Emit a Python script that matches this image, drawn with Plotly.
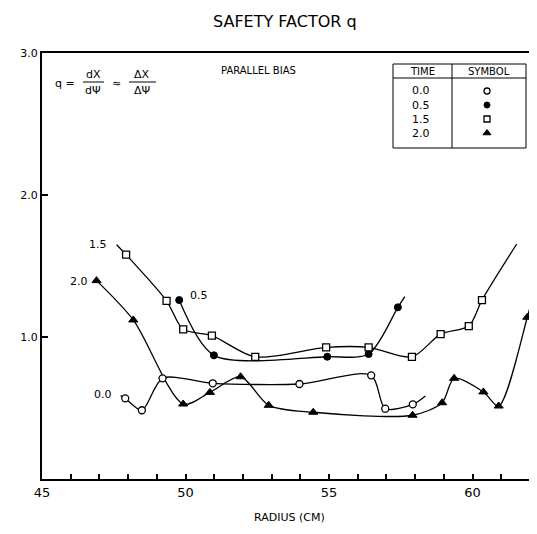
import plotly.graph_objects as go

# ---------------- data ----------------
# TIME 0.0 (open circles)
r_00 = [47.9, 48.48, 49.2, 50.95, 53.97, 56.47, 56.96, 57.92]
q_00 = [0.568, 0.484, 0.709, 0.674, 0.669, 0.73, 0.495, 0.526]
ends_r_00 = [47.74, 58.36]
ends_q_00 = [0.587, 0.585]

# TIME 0.5 (filled ellipses)
r_05 = [49.78, 50.99, 54.94, 56.38, 57.4]
q_05 = [1.26, 0.871, 0.861, 0.88, 1.209]
ends_r_05 = [None, 57.64]
ends_q_05 = [None, 1.284]

# TIME 1.5 (open squares)
r_15 = [47.93, 49.34, 49.92, 50.92, 52.43, 54.9, 56.38, 57.89, 58.89, 59.87, 60.33]
q_15 = [1.58, 1.255, 1.054, 1.01, 0.86, 0.927, 0.927, 0.86, 1.02, 1.077, 1.26]
ends_r_15 = [47.6, 61.54]
ends_q_15 = [1.65, 1.655]

# TIME 2.0 (filled triangles)
r_20 = [46.9, 48.18, 49.92, 50.85, 51.92, 52.9, 54.45, 57.91, 58.94, 59.36,
        60.38, 60.91, 61.91, 62.26]
q_20 = [1.397, 1.12, 0.528, 0.61, 0.72, 0.519, 0.47, 0.449, 0.537, 0.709,
        0.613, 0.514, 1.139, 1.425]
ends_r_20 = [None, None]
ends_q_20 = [None, None]

times = ["0.0", "0.5", "1.5", "2.0"]
x_ticks = list(range(45, 63))
x_tick_text = [str(v) if v % 5 == 0 else "" for v in x_ticks]
y_ticks = [1.0, 2.0, 3.0]
y_tick_text = ["1.0", "2.0", "3.0"]

# ---------------- layout helpers ----------------
# the page body adds an 8px margin; lay out in screen pixels and shift
OFF = 8
SW, SH = 537, 534              # screen size
W, H = SW - 2 * OFF, SH - 2 * OFF  # figure size (no scrollbars)
PL, PR, PT, PB = 42, SW - OFF, 53, 479   # plot area in screen pixels
L, T = PL - OFF, PT - OFF
R = W - (PR - OFF)
B = H - (PB - OFF)
PW, PH = PR - PL, PB - PT
UNIT = 28.7  # pixels per cm in the reference


def px(x):
    return (x - PL) / PW


def py(y):
    return (PB - y) / PH


FONT = "DejaVu Sans"
marker_styles = {
    "0.0": dict(symbol="circle", size=7, color="white", line=dict(color="black", width=1.3)),
    "0.5": dict(symbol="circle", size=7, color="black", line=dict(color="black", width=1)),
    "1.5": dict(symbol="square", size=7, color="white", line=dict(color="black", width=1.3)),
    "2.0": dict(symbol="triangle-up", size=8, color="black", line=dict(color="black", width=1)),
}

series = {
    "0.0": (r_00, q_00, ends_r_00, ends_q_00),
    "0.5": (r_05, q_05, ends_r_05, ends_q_05),
    "1.5": (r_15, q_15, ends_r_15, ends_q_15),
    "2.0": (r_20, q_20, ends_r_20, ends_q_20),
}

fig = go.Figure()

for t in times:
    r, q, er, eq = series[t]
    lx = ([er[0]] if er[0] is not None else []) + r + ([er[1]] if er[1] is not None else [])
    ly = ([eq[0]] if eq[0] is not None else []) + q + ([eq[1]] if eq[1] is not None else [])
    fig.add_trace(go.Scatter(x=lx, y=ly, mode="lines",
                             line=dict(color="black", width=1.3, shape="spline", smoothing=0.8),
                             showlegend=False, hoverinfo="skip"))
for t in times:
    r, q, er, eq = series[t]
    fig.add_trace(go.Scatter(x=r, y=q, mode="markers", marker=marker_styles[t],
                             showlegend=False, name=t))

# legend table markers on overlay axes (pixel-based paper coords)
leg_rows_y = [91, 105, 119, 133]
for t, yy in zip(times, leg_rows_y):
    ms = dict(marker_styles[t])
    ms["size"] = ms["size"] - 1
    fig.add_trace(go.Scatter(x=[px(487)], y=[py(yy)], mode="markers", marker=ms,
                             xaxis="x2", yaxis="y2", showlegend=False, hoverinfo="skip"))

fig.update_layout(
    width=W, height=H,
    margin=dict(l=L, r=R, t=T, b=B, pad=0),
    paper_bgcolor="white", plot_bgcolor="white",
    font=dict(family=FONT, color="black", size=12),
    showlegend=False,
    xaxis=dict(range=[45, 45 + PW / UNIT], showgrid=False, zeroline=False,
               showline=True, linecolor="black", linewidth=2, mirror=True,
               tickmode="array", tickvals=x_ticks, ticktext=x_tick_text,
               ticks="inside", ticklen=5, tickcolor="black", tickwidth=1.5,
               tickfont=dict(size=13, family=FONT)),
    yaxis=dict(range=[0, 3.0], showgrid=False, zeroline=False,
               showline=True, linecolor="black", linewidth=2,
               tickmode="array", tickvals=y_ticks, ticktext=y_tick_text,
               ticks="inside", ticklen=6, tickcolor="black", tickwidth=1.5,
               tickfont=dict(size=11, family=FONT)),
    xaxis2=dict(domain=[0, 1], range=[0, 1], visible=False, overlaying="x", anchor="y2"),
    yaxis2=dict(domain=[0, 1], range=[0, 1], visible=False, overlaying="y", anchor="x2"),
)

ann = []


def A(text, x, y, size=12, xa="center"):
    ann.append(dict(text=text, x=px(x), y=py(y), xref="paper", yref="paper",
                    showarrow=False, xanchor=xa, yanchor="middle",
                    font=dict(size=size, family=FONT)))


# title & axis title
A("SAFETY FACTOR q", 285, 22, size=16)
A("RADIUS (CM)", 289, 517, size=11)
A("PARALLEL BIAS", 258, 70, size=10)

# formula
A("q =", 65, 83, size=11)
A("dX", 93, 75, size=11)
A("dΨ", 93, 90, size=11)
A("≈", 116, 83, size=11)
A("ΔX", 142, 75, size=11)
A("ΔΨ", 142, 90, size=11)

# curve labels
A("1.5", 98, 245, size=11)
A("2.0", 79, 281, size=11)
A("0.5", 199, 295, size=11)
A("0.0", 103, 394, size=11)

# legend table text
A("TIME", 422, 71, size=10)
A("SYMBOL", 489, 71, size=10)
for t, yy in zip(times, leg_rows_y):
    A(t, 421, yy, size=11)

fig.update_layout(annotations=ann)

shapes = []


def S(x0, y0, x1, y1, w=1):
    shapes.append(dict(type="line", xref="paper", yref="paper",
                       x0=px(x0), y0=py(y0), x1=px(x1), y1=py(y1),
                       line=dict(color="black", width=w)))


# fraction bars
S(83, 82, 104, 82, 1)
S(129, 82, 156, 82, 1)
# legend table box
S(393, 64, 526, 64)
S(393, 148, 526, 148)
S(393, 64, 393, 148)
S(526, 64, 526, 148)
S(393, 78, 526, 78)
S(452, 64, 452, 148)

fig.update_layout(shapes=shapes)

fig.write_html("out.html")
